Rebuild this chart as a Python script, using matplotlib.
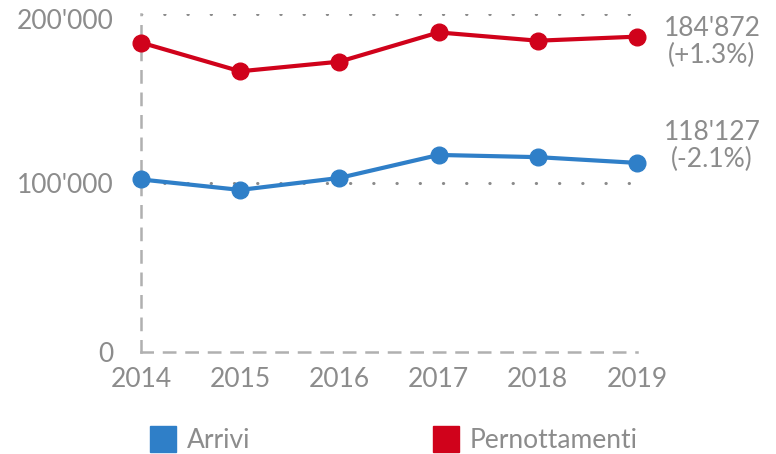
import matplotlib
matplotlib.use("Agg")
import matplotlib.pyplot as plt
import matplotlib.transforms as mtransforms
from matplotlib.lines import Line2D
from matplotlib.ticker import FuncFormatter

plt.rcParams['font.family'] = ['Lato', 'DejaVu Sans']

years = [2014, 2015, 2016, 2017, 2018, 2019]
arrivi = [102100, 95900, 103000, 116600, 115300, 111900]
pernottamenti = [183100, 166100, 171800, 189100, 184200, 186600]
series_names = ["Arrivi", "Pernottamenti"]
end_labels = ["118'127\n(-2.1%)", "184'872\n(+1.3%)"]
end_label_y = [121900, 183400]
y_ticks = [0, 100000, 200000]

BLUE = '#2f7fc8'
RED = '#d0021b'
GREY = '#8c8c8c'
FS = 19

fig = plt.figure(figsize=(7.76, 4.54), dpi=100)
ax = fig.add_axes([141/776, 1-352/454, (637-141)/776, (352-14)/454])
ax.set_xlim(2014, 2019)
ax.set_ylim(0, 200000)

for sp in ['top', 'right']:
    ax.spines[sp].set_visible(False)
for sp in ['left', 'bottom']:
    ax.spines[sp].set_color('#b0b0b0')
    ax.spines[sp].set_linewidth(1.8)
    ax.spines[sp].set_linestyle((0, (4.5, 4.5)))

ax.set_yticks(y_ticks)
ax.yaxis.set_major_formatter(FuncFormatter(lambda v, p: f"{int(v):,}".replace(",", "'")))
ax.set_xticks(years)
ax.set_xticklabels([str(y) for y in years])
ax.tick_params(axis='both', length=0, labelsize=FS, labelcolor=GREY)
ax.tick_params(axis='y', pad=20)
ax.tick_params(axis='x', pad=11)

# nudge the top tick label slightly down so it is not clipped
top_lab = ax.get_yticklabels()[-1]
top_lab.set_transform(top_lab.get_transform() +
                      mtransforms.ScaledTranslation(0, -5/100, fig.dpi_scale_trans))

for yv in y_ticks[1:]:
    ax.axhline(yv, color='#8a8a8a', linewidth=2.2, linestyle=(0, (0.1, 7.5)),
               dash_capstyle='round', zorder=1)

colors = [BLUE, RED]
data = [arrivi, pernottamenti]
for vals, c in zip(data, colors):
    ax.plot(years, vals, color=c, linewidth=3, marker='o', markersize=12,
            clip_on=False, zorder=3)

for lab, yv, c in zip(end_labels, end_label_y, colors):
    ax.annotate(lab, xy=(2019, yv), xytext=(54, 0), textcoords='offset points',
                ha='center', va='center', fontsize=FS, color=GREY,
                linespacing=1.08, annotation_clip=False)

handles = [Line2D([], [], linestyle='none', marker='s', markersize=19,
                  markerfacecolor=c, markeredgecolor=c) for c in colors]
leg = fig.legend(handles, series_names, loc='center left',
                 bbox_to_anchor=(150/776, 1-441/454), ncol=2, frameon=False,
                 fontsize=FS, handlelength=1.0, handletextpad=0.4,
                 columnspacing=6.9, borderaxespad=0, borderpad=0)
for t in leg.get_texts():
    t.set_color(GREY)

fig.savefig('out.png', dpi=100)
